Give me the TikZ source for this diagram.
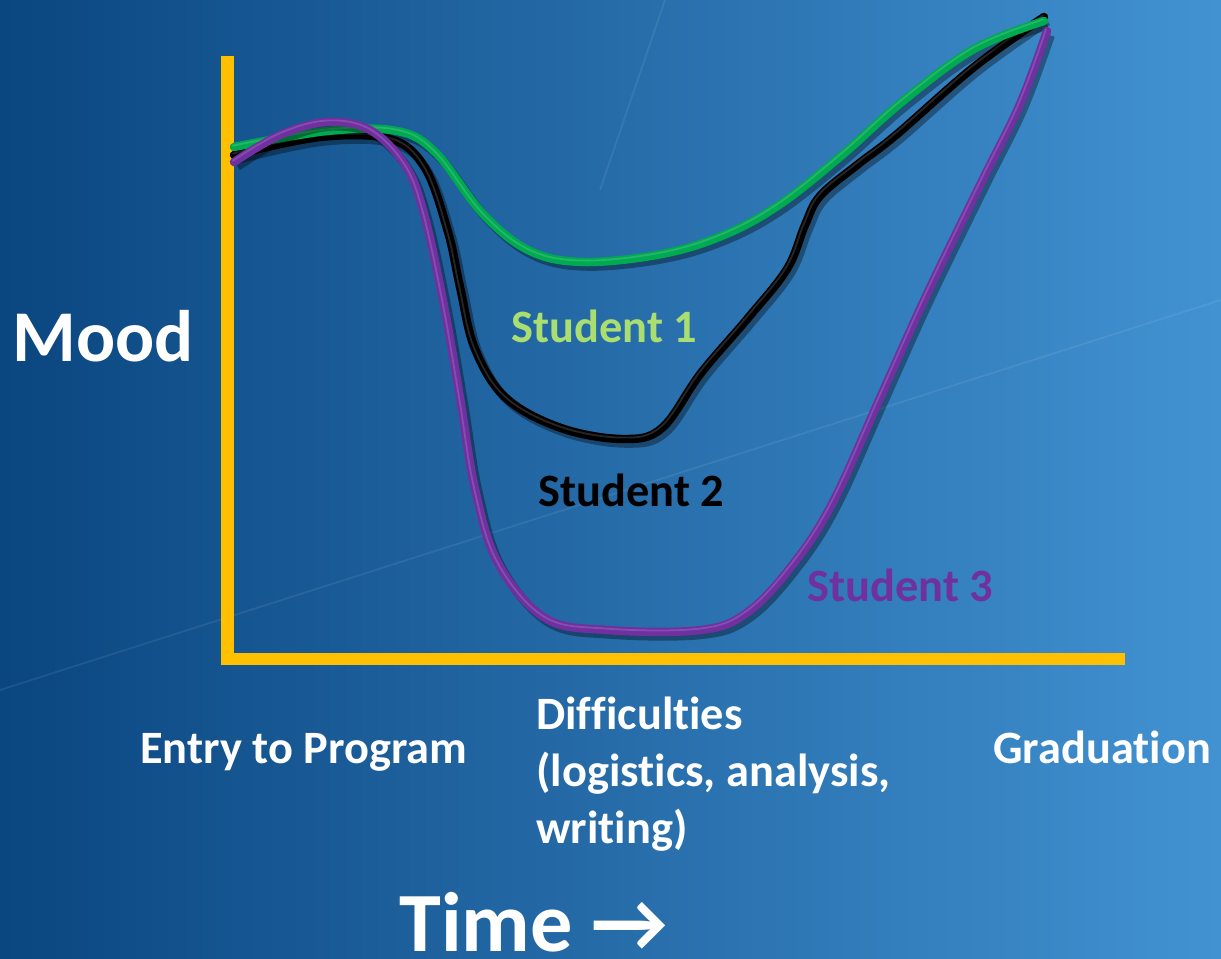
\documentclass[tikz,border=0pt]{standalone}
\usepackage{fontspec}
\setmainfont{Carlito}[Ligatures=NoCommon]
\usetikzlibrary{positioning}
\definecolor{bgdark}{RGB}{10,70,128}
\definecolor{bglight}{RGB}{66,146,210}
\definecolor{axisgold}{RGB}{255,192,0}
\definecolor{tubegreen}{RGB}{0,170,80}
\definecolor{tubepurple}{RGB}{112,48,160}
\definecolor{labelgreen}{RGB}{170,222,112}

\begin{document}
\begin{tikzpicture}[x=0.02cm,y=-0.02cm,
					txt/.style={
						inner sep=0pt, anchor=base west, text=white,
						font=\bfseries\fontsize{26.4}{32.3}\selectfont
					},
					axisline/.style={draw=axisgold, line width=7pt},
					tube/.style={
						line width=4.8pt, line cap=round, line join=round,
						preaction={draw=black, draw opacity=0.35, line width=5pt,
							transform canvas={shift={(2pt,-2.5pt)}}},
						postaction={draw=white, draw opacity=0.15, line width=1pt,
							transform canvas={shift={(-0.6pt,0.8pt)}}}
					}
					]
					% background
					\shade[left color=bgdark, right color=bglight] (0,0) rectangle (1221,959);
					\useasboundingbox (0,0) rectangle (1221,959);
					\draw[white, opacity=0.08, line width=1pt] (0,690) -- (1221,300);
					\draw[white, opacity=0.08, line width=1pt] (600,190) -- (665,0);
					
					% axes
					\draw[axisline] (227.5,56) -- (227.5,659) -- (1125,659);
					
					% Student 2
					\draw[tube, black] plot[smooth, tension=0.6] coordinates {
						(234,155) (320,137) (390,139) (425,168) (448,232) (460,287)
						(475,349) (506,398) (561,428) (623,439) (662,428) (701,373)
						(748,318) (787,269) (805,225) (820,196) (857,165) (896,135)
						(974,67) (1044,17)};
					% Student 1
					\draw[tube, tubegreen] plot[smooth, tension=0.6] coordinates {
						(234,147) (327,131) (397,131) (436,153) (483,214) (530,251)
						(584,262) (662,254) (724,235) (779,205) (841,156) (903,101)
						(974,49) (1044,21)};
					% Student 3
					\draw[tube, tubepurple] plot[smooth, tension=0.6] coordinates {
						(234,162) (280,135) (327,122) (370,130) (405,165) (424,214)
						(444,306) (460,398) (475,489) (498,563) (545,618) (607,630)
						(701,630) (748,612) (794,563) (833,502) (880,398) (927,294)
						(981,183) (1020,104) (1047,31)};
					
					% texts
					\node[txt, font=\bfseries\fontsize{41.5}{48}\selectfont] (mood) at (12,362) {Mood};
					\node[txt, text=labelgreen] (s1) at (511,343) {Student 1};
					\node[txt, text=black] (s2) at (538,507) {Student 2};
					\node[txt, text=tubepurple] (s3) at (807,602) {Student 3};
					\node[txt] (entry) at (140,763) {Entry to Program};
					% base of a wrapped node is its last line
					\node[txt, align=left] (diff) at (536,843) {Difficulties\\(logistics, analysis,\\writing)};
					\node[txt] (grad) at (993,763) {Graduation};
					\node[txt, text depth=0pt, font=\bfseries\fontsize{48}{56}\selectfont] (time) at (399,951) {Time →};
				\end{tikzpicture}
\end{document}
